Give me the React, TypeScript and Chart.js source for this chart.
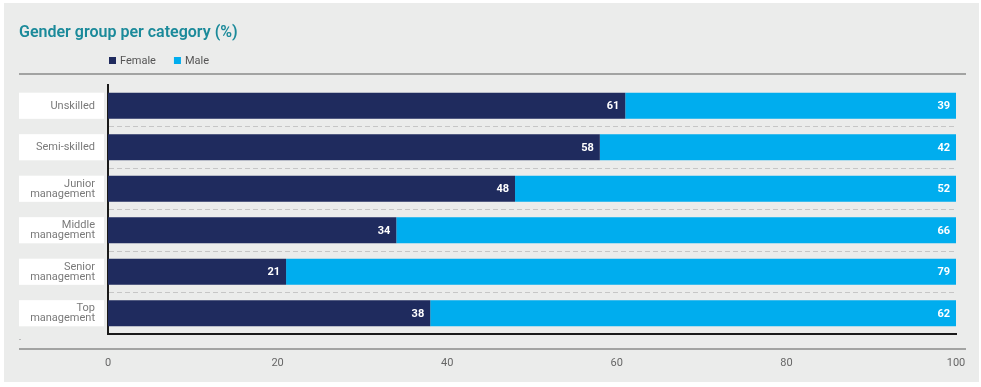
import React, { useEffect, useRef } from "react";
import { Chart, registerables } from "chart.js";

Chart.register(...registerables);

const categories: string[][] = [
  ["Unskilled"],
  ["Semi-skilled"],
  ["Junior", "management"],
  ["Middle", "management"],
  ["Senior", "management"],
  ["Top", "management"],
];
const female: number[] = [61, 58, 48, 34, 21, 38];
const male: number[] = [39, 42, 52, 66, 79, 62];
const seriesNames: string[] = ["Female", "Male"];
const seriesColors: string[] = ["#1f2b5e", "#00adee"];
const titleText = "Gender group per category (%)";

const FONT = "Roboto, 'Open Sans', sans-serif";

const decorPlugin = {
  id: "decor",
  beforeDraw(chart: any) {
    const ctx = chart.ctx as CanvasRenderingContext2D;
    ctx.save();
    ctx.fillStyle = "#ffffff";
    ctx.fillRect(0, 0, chart.width, chart.height);
    ctx.fillStyle = "#ebeceb";
    ctx.fillRect(4, 3, chart.width - 6, 379);

    // title
    ctx.fillStyle = "#1b8a9a";
    ctx.font = `600 16px ${FONT}`;
    ctx.textBaseline = "alphabetic";
    ctx.textAlign = "left";
    ctx.fillText(titleText, 19, 37);

    // legend
    let lx = 109;
    chart.data.datasets.forEach((ds: any) => {
      ctx.fillStyle = ds.backgroundColor;
      ctx.fillRect(lx, 57, 7, 7);
      ctx.fillStyle = "#555555";
      ctx.font = `11px ${FONT}`;
      ctx.textBaseline = "middle";
      ctx.fillText(ds.label, lx + 11, 61);
      lx += 11 + ctx.measureText(ds.label).width + 18;
    });

    // rules
    ctx.strokeStyle = "#8a8a8a";
    ctx.lineWidth = 1.5;
    ctx.beginPath();
    ctx.moveTo(19, 74);
    ctx.lineTo(966, 74);
    ctx.moveTo(19, 349);
    ctx.lineTo(966, 349);
    ctx.stroke();
    ctx.fillStyle = "#bbbbbb";
    ctx.fillRect(19, 339, 2, 1);

    // category label boxes
    const yScale = chart.scales.y;
    const meta = chart.getDatasetMeta(0);
    chart.data.labels.forEach((lab: string[], i: number) => {
      const cy = yScale.getPixelForValue(i);
      const bar = meta.data[i] as any;
      const h = bar ? bar.height : 26;
      ctx.fillStyle = "#ffffff";
      ctx.fillRect(19, cy - h / 2, 85, h);
      ctx.fillStyle = "#7a7a7a";
      ctx.font = `11px ${FONT}`;
      ctx.textAlign = "right";
      ctx.textBaseline = "middle";
      const lh = 10;
      const start = cy - ((lab.length - 1) * lh) / 2;
      lab.forEach((line, j) => ctx.fillText(line, 95, start + j * lh));
    });
    ctx.restore();
  },
  afterDatasetsDraw(chart: any) {
    const ctx = chart.ctx as CanvasRenderingContext2D;
    ctx.save();
    ctx.fillStyle = "#ffffff";
    ctx.font = `bold 11px ${FONT}`;
    ctx.textAlign = "right";
    ctx.textBaseline = "middle";
    chart.data.datasets.forEach((ds: any, di: number) => {
      const meta = chart.getDatasetMeta(di);
      meta.data.forEach((bar: any, i: number) => {
        ctx.fillText(String(ds.data[i]), bar.x - 6, bar.y + 0.5);
      });
    });
    ctx.restore();
  },
};

export default function App() {
  const ref = useRef<HTMLCanvasElement | null>(null);
  useEffect(() => {
    if (!ref.current) return;
    const nCat = categories.length;
    const chart = new Chart(ref.current, {
      type: "bar",
      data: {
        labels: categories as any,
        datasets: [
          { label: seriesNames[0], data: female, backgroundColor: seriesColors[0], borderWidth: 0 },
          { label: seriesNames[1], data: male, backgroundColor: seriesColors[1], borderWidth: 0 },
        ],
      },
      options: {
        indexAxis: "y",
        responsive: false,
        animation: false,
        devicePixelRatio: 1,
        layout: { padding: { left: 108, right: 25, top: 85, bottom: 0 } },
        plugins: { legend: { display: false }, title: { display: false }, tooltip: { enabled: false } },
        datasets: { bar: { categoryPercentage: 1, barPercentage: 0.63 } },
        scales: {
          x: {
            stacked: true,
            min: 0,
            max: 100,
            ticks: { stepSize: 20, color: "#666666", font: { family: FONT, size: 11 }, padding: 23, maxRotation: 0 },
            grid: { display: false, drawTicks: false },
            border: { display: true, color: "#1a1a1a", width: 2 },
            afterFit: (s: any) => {
              s.height = 53;
              s.paddingLeft = 0;
              s.paddingRight = 0;
            },
          },
          y: {
            stacked: true,
            ticks: { display: false },
            grid: {
              display: true,
              drawTicks: false,
              offset: true,
              lineWidth: 1,
              color: (c: any) => (c.index === 0 || c.index >= nCat ? "rgba(0,0,0,0)" : "#c6c6c6"),
            },
            border: { display: true, color: "#1a1a1a", width: 2, dash: [5, 3] },
            afterFit: (s: any) => {
              s.width = 0;
            },
          },
        },
      },
      plugins: [decorPlugin],
    });
    return () => chart.destroy();
  }, []);
  return (
    <div style={{ position: "absolute", left: 0, top: 0, width: 981, height: 387 }}>
      <canvas ref={ref} width={981} height={387} style={{ display: "block", width: 981, height: 387 }} />
    </div>
  );
}
